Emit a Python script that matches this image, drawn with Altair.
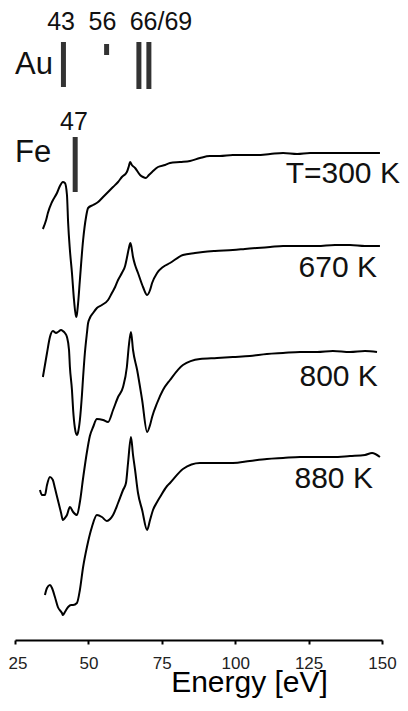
import altair as alt
import pandas as pd

# ---- spectra: energy (eV) and offset signal (a.u.) ----
e_300 = [34.5, 35.6, 36.2, 37.6, 39.3, 40.3, 41.3, 42.0, 42.7, 43.1, 43.7, 44.4, 45.1, 45.8, 46.1,
         46.5, 47.1, 48.2, 49.2, 49.9, 51.6, 53.3, 55.0, 56.7, 58.4, 60.1, 61.4, 63.1, 63.8, 64.2,
         64.8, 65.9, 67.6, 68.6, 69.6, 70.6, 71.7, 73.7, 76.1, 77.8, 81.2, 84.6, 88.0, 91.4, 94.8,
         99.2, 103.3, 107.4, 111.9, 116.3, 121.1, 125.5, 130.6, 134.7, 139.1, 144.2, 149.3]
s_300 = [411, 420, 427, 438, 447, 454, 458, 457, 445, 417, 390, 367, 340, 323, 326,
         337, 360, 400, 423, 432, 435, 438, 443, 448, 453, 458, 463, 468, 474, 478,
         475, 472, 465, 463, 462, 465, 468, 473, 475, 477, 478, 479, 482, 484, 484,
         485, 485, 485, 486, 487, 486, 487, 487, 487, 487, 487, 487]

e_670 = [34.5, 35.2, 35.9, 36.9, 37.9, 39.0, 39.6, 40.7, 41.3, 42.0, 42.7, 43.4, 43.7, 44.4, 44.8,
         45.4, 46.1, 46.5, 47.1, 47.8, 48.2, 48.8, 49.5, 49.9, 50.5, 51.6, 52.9, 54.6, 56.7, 58.0,
         59.1, 60.1, 61.4, 62.5, 63.1, 63.8, 64.3, 64.6, 65.2, 65.9, 66.9, 68.6, 70.0, 71.0, 71.7,
         73.4, 75.4, 77.8, 82.2, 86.3, 89.0, 93.1, 99.2, 103.3, 107.4, 111.9, 116.3, 122.1, 127.9,
         134.0, 139.1, 144.2, 149.3]
s_670 = [263, 275, 287, 303, 309, 307, 308, 310, 309, 307, 303, 290, 273, 250, 230,
         212, 205, 208, 220, 245, 263, 287, 307, 317, 322, 327, 332, 335, 340, 347,
         353, 360, 367, 374, 382, 392, 397, 394, 383, 375, 367, 353, 345, 350, 357,
         367, 373, 377, 385, 387, 388, 389, 390, 391, 392, 393, 394, 394, 394,
         395, 395, 394, 394]

e_800 = [33.5, 34.2, 35.2, 35.9, 36.9, 37.9, 38.6, 39.6, 40.7, 41.3, 42.0, 42.7, 43.7, 44.8, 46.1,
         47.1, 48.2, 49.5, 50.5, 51.6, 52.9, 55.0, 56.7, 58.4, 60.1, 61.8, 63.1, 63.8, 64.5, 65.2,
         66.6, 68.3, 70.0, 71.0, 71.7, 73.4, 75.4, 77.8, 82.2, 88.0, 93.8, 99.2, 105.0, 110.8,
         116.3, 122.1, 127.9, 133.3, 139.1, 144.2, 148.3]
s_800 = [150, 145, 145, 155, 163, 160, 152, 140, 127, 120, 122, 125, 133, 128, 125,
         138, 162, 188, 204, 213, 221, 220, 218, 230, 243, 253, 273, 295, 308, 290,
         270, 240, 208, 215, 223, 237, 250, 260, 275, 281, 282, 283, 284, 286,
         287, 288, 288, 289, 288, 289, 288]

e_880 = [35.2, 35.9, 36.9, 37.6, 38.6, 39.6, 41.0, 41.3, 42.0, 43.1, 44.1, 44.8, 46.1, 47.1, 48.2,
         49.5, 51.2, 52.9, 54.6, 56.3, 57.4, 58.4, 60.1, 61.8, 62.8, 63.5, 64.5, 65.2, 65.9, 66.9,
         68.3, 70.0, 71.0, 72.0, 73.4, 74.4, 76.8, 77.8, 82.2, 88.0, 93.8, 99.2, 105.0, 110.8,
         116.3, 122.1, 127.9, 133.3, 139.1, 144.2, 146.6, 149.3]
s_880 = [45, 52, 55, 52, 43, 33, 27, 25, 28, 33, 35, 35, 37, 50, 73,
         93, 113, 125, 123, 119, 121, 125, 137, 150, 157, 177, 203, 185, 170, 147,
         130, 110, 120, 130, 138, 143, 154, 157, 171, 177, 177, 177, 179, 181,
         182, 183, 183, 183, 184, 185, 187, 183]

# ---- Auger reference markers ----
mark_energy = [41.5, 56.2, 67.2, 70.6, 45.5]
mark_top = [598, 596, 598, 598, 503]
mark_bottom = [553, 585, 551, 551, 448]

num_labels = ["43", "56", "66/69", "47"]
num_energy = [40.7, 54.8, 74.7, 45.1]
num_signal = [610, 610, 610, 510]

elem_labels = ["Au", "Fe"]
elem_energy = [25.0, 25.0]
elem_signal = [566, 478]

temp_labels = ["T=300 K", "670 K", "800 K", "880 K"]
temp_energy = [156.1, 148.3, 148.6, 146.9]
temp_signal = [457, 363, 254, 152]

x_ticks = [25, 50, 75, 100, 125, 150]

FONT = "Liberation Sans"

rows = []
for name, es, ss in [("300", e_300, s_300), ("670", e_670, s_670),
                     ("800", e_800, s_800), ("880", e_880, s_880)]:
    for e, s in zip(es, ss):
        rows.append({"series": name, "E": e, "S": s})
curves = pd.DataFrame(rows)

markers = pd.DataFrame({"E": mark_energy, "S1": mark_top, "S2": mark_bottom})
nums = pd.DataFrame({"E": num_energy, "S": num_signal, "t": num_labels})
elems = pd.DataFrame({"E": elem_energy, "S": elem_signal, "t": elem_labels})
temps = pd.DataFrame({"E": temp_energy, "S": temp_signal, "t": temp_labels})

xscale = alt.Scale(domain=[25, 150], nice=False)
yscale = alt.Scale(domain=[0, 632], nice=False, zero=False)

xaxis = alt.Axis(values=x_ticks, grid=False, domainColor="black", domainWidth=2,
                 tickColor="black", tickWidth=2, tickSize=4, labelFontSize=17,
                 labelFont=FONT, labelColor="#222", labelPadding=11, labelFlush=False,
                 labelAlign=alt.ExprRef(expr="datum.value == 25 ? 'left' : 'center'"),
                 labelOffset=alt.ExprRef(expr="datum.value == 25 ? -7 : 0"),
                 labelOverlap=False, title="Energy [eV]", titleFont=FONT, titleFontSize=30,
                 titleFontWeight="normal", titleColor="black", titleX=234, titleY=51,
                 titleBaseline="alphabetic", titleAlign="center")

lines = alt.Chart(curves).mark_line(color="black", strokeWidth=2, interpolate="monotone").encode(
    x=alt.X("E:Q", scale=xscale, axis=xaxis),
    y=alt.Y("S:Q", scale=yscale, axis=None),
    detail="series:N",
)

rules = alt.Chart(markers).mark_rule(color="#333", strokeWidth=5).encode(
    x=alt.X("E:Q", scale=xscale),
    y=alt.Y("S1:Q", scale=yscale),
    y2="S2:Q",
)

num_text = alt.Chart(nums).mark_text(align="center", baseline="alphabetic", fontSize=25,
                                     font=FONT, color="#111").encode(
    x=alt.X("E:Q", scale=xscale), y=alt.Y("S:Q", scale=yscale), text="t:N")

elem_text = alt.Chart(elems).mark_text(align="left", baseline="alphabetic", fontSize=31,
                                       font=FONT, color="#111").encode(
    x=alt.X("E:Q", scale=xscale), y=alt.Y("S:Q", scale=yscale), text="t:N")

temp_text = alt.Chart(temps).mark_text(align="right", baseline="alphabetic", fontSize=30,
                                       font=FONT, color="#111").encode(
    x=alt.X("E:Q", scale=xscale), y=alt.Y("S:Q", scale=yscale), text="t:N")

chart = alt.layer(lines, rules, num_text, elem_text, temp_text).properties(
    width=367, height=632,
    autosize=alt.AutoSizeParams(type="none"),
    padding={"left": 7, "top": 0, "right": 18, "bottom": 58},
).configure_view(strokeWidth=0)

chart.save("out.html", embed_options={"renderer": "svg", "actions": False})
